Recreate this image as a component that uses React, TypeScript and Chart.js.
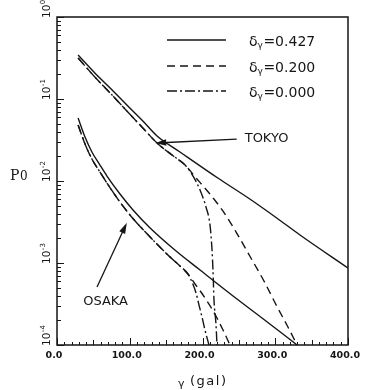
import React, { useEffect, useRef } from 'react';
import { Chart, registerables } from 'chart.js';

Chart.register(...registerables);

// ---------------- data ----------------
const TOKYO_SOLID_G = [29, 52, 73, 96, 118, 137.5, 169, 221, 265, 302, 334, 400];
const TOKYO_SOLID_P = [0.344, 0.2075, 0.1362, 0.0845, 0.0539, 0.0354, 0.0226, 0.01088, 0.00603, 0.00354, 0.002195, 0.000869];

const TOKYO_DASH_G = [29, 52, 73, 96, 118, 137.5, 158, 176, 190, 209, 228, 247, 265, 284.5, 302, 316, 330];
const TOKYO_DASH_P = [0.316, 0.1854, 0.1184, 0.0714, 0.0443, 0.02906, 0.02075, 0.01567, 0.01119, 0.00714, 0.00431, 0.00232, 0.001217, 0.000603, 0.000299, 0.0001753, 0.0001];

const TOKYO_DOT_G = [29, 52, 73, 96, 118, 137.5, 158, 176, 187, 196.6, 204.8, 210.3, 213.1, 214.4, 215.8, 218.6, 219.9];
const TOKYO_DOT_P = [0.316, 0.1854, 0.1184, 0.0714, 0.0443, 0.02906, 0.02075, 0.01567, 0.0115, 0.00777, 0.00482, 0.00291, 0.00144, 0.000821, 0.000354, 0.0001753, 0.0001];

const OSAKA_SOLID_G = [29, 38.5, 48, 59, 68.7, 86.6, 104.5, 128, 162, 196.6, 242, 289, 330];
const OSAKA_SOLID_P = [0.0587, 0.0344, 0.0226, 0.01567, 0.0115, 0.00694, 0.00443, 0.00267, 0.00144, 0.000821, 0.000396, 0.000191, 0.0001];

const OSAKA_DASH_G = [29, 38.5, 48, 59, 79.7, 100.3, 128, 151, 169, 180, 189.7, 197.9, 206.2, 213.1, 219.9, 228.2, 237.8];
const OSAKA_DASH_P = [0.0482, 0.02827, 0.01854, 0.01288, 0.00675, 0.00385, 0.002075, 0.001288, 0.000919, 0.000734, 0.000555, 0.000443, 0.000344, 0.000275, 0.0002135, 0.0001524, 0.0001];

const OSAKA_DOT_G = [29, 38.5, 48, 59, 79.7, 100.3, 128, 151, 169, 180, 185.6, 191.1, 195.2, 199.3, 203.4, 208.9];
const OSAKA_DOT_P = [0.0482, 0.02827, 0.01854, 0.01288, 0.00675, 0.00385, 0.002075, 0.001288, 0.000919, 0.000734, 0.000586, 0.000431, 0.000307, 0.0002195, 0.0001524, 0.0001];

const X_TICK_LABELS = ['0.0', '100.0', '200.0', '300.0', '400.0'];
const X_TICK_VALUES = [0, 100, 200, 300, 400];
const Y_DECADE_EXPONENTS = ['0', '-1', '-2', '-3', '-4'];
const LEGEND_VALUES = ['0.427', '0.200', '0.000'];

// annotation anchors (data coordinates)
const TOKYO_NOTE = { text: 'TOKYO', label: [258, 0.0325], from: [247, 0.0325], to: [135, 0.029] };
const OSAKA_NOTE = { text: 'OSAKA', label: [36, 0.00034], from: [55, 0.00051], to: [96, 0.0031] };

// ---------------- styles ----------------
const W = 365;
const H = 390;
const INK = '#151515';
const STYLES = [[], [8, 5], [10, 3, 2, 3]];

const pts = (g: number[], p: number[]) => g.map((x, i) => ({ x, y: p[i] }));

const series = (g: number[], p: number[], style: number) => ({
  data: pts(g, p),
  borderColor: INK,
  borderWidth: 1.4,
  borderDash: STYLES[style],
  pointRadius: 0,
  fill: false,
  tension: 0.4,
  cubicInterpolationMode: 'monotone' as const,
});

function arrow(ctx: CanvasRenderingContext2D, x1: number, y1: number, x2: number, y2: number) {
  const ang = Math.atan2(y2 - y1, x2 - x1);
  const hl = 11;
  const hw = 3.2;
  ctx.beginPath();
  ctx.moveTo(x1, y1);
  ctx.lineTo(x2 - Math.cos(ang) * hl * 0.6, y2 - Math.sin(ang) * hl * 0.6);
  ctx.stroke();
  ctx.beginPath();
  ctx.moveTo(x2, y2);
  ctx.lineTo(x2 - Math.cos(ang) * hl - Math.sin(ang) * hw, y2 - Math.sin(ang) * hl + Math.cos(ang) * hw);
  ctx.lineTo(x2 - Math.cos(ang) * hl + Math.sin(ang) * hw, y2 - Math.sin(ang) * hl - Math.cos(ang) * hw);
  ctx.closePath();
  ctx.fill();
}

const decor = {
  id: 'decor',
  afterDraw(chart: any) {
    const { ctx, chartArea: a } = chart;
    const x = chart.scales.x;
    const y = chart.scales.y;
    ctx.save();
    ctx.strokeStyle = INK;
    ctx.fillStyle = INK;
    ctx.setLineDash([]);

    // frame
    ctx.lineWidth = 1.5;
    ctx.strokeRect(a.left, a.top, a.right - a.left, a.bottom - a.top);

    // x ticks (inward)
    ctx.lineWidth = 1;
    ctx.beginPath();
    for (let v = 0; v <= 400; v += 10) {
      const px = Math.round(x.getPixelForValue(v)) + 0.5;
      const len = v % 100 === 0 ? 7 : v % 50 === 0 ? 5 : 3;
      ctx.moveTo(px, a.bottom);
      ctx.lineTo(px, a.bottom - len);
    }
    // y ticks (inward)
    for (let d = -4; d <= 0; d++) {
      for (let m = 1; m <= 9; m++) {
        if (d === 0 && m > 1) break;
        const v = m * Math.pow(10, d);
        const py = Math.round(y.getPixelForValue(v)) + 0.5;
        const len = m === 1 ? 7 : 4;
        ctx.moveTo(a.left, py);
        ctx.lineTo(a.left + len, py);
      }
    }
    ctx.stroke();

    // x tick labels
    ctx.font = 'bold 9.5px "DejaVu Sans"';
    ctx.textAlign = 'center';
    ctx.textBaseline = 'middle';
    X_TICK_VALUES.forEach((v, i) => {
      ctx.fillText(X_TICK_LABELS[i], x.getPixelForValue(v) - 3, a.bottom + 11);
    });

    // y tick labels (rotated)
    Y_DECADE_EXPONENTS.forEach((e) => {
      const py = y.getPixelForValue(Math.pow(10, Number(e)));
      ctx.save();
      ctx.translate(50, py + 1);
      ctx.rotate(-Math.PI / 2);
      ctx.textAlign = 'left';
      ctx.textBaseline = 'alphabetic';
      ctx.font = '10.5px "DejaVu Sans"';
      ctx.fillText('10', 0, 0);
      const w = ctx.measureText('10').width;
      ctx.font = '7px "DejaVu Sans"';
      ctx.fillText(e, w + 0.5, -5);
      ctx.restore();
    });

    // axis titles
    ctx.textAlign = 'left';
    ctx.textBaseline = 'alphabetic';
    ctx.font = '14px "DejaVu Serif"';
    ctx.fillText('P', 10, 180);
    const pw = ctx.measureText('P').width;
    ctx.font = '12px "DejaVu Serif"';
    ctx.fillText('0', 10 + pw + 0.5, 180);

    ctx.font = '11px "DejaVu Sans"';
    ctx.fillText('γ', 178, 387);
    ctx.font = '13px "DejaVu Sans"';
    (ctx as any).letterSpacing = '1.5px';
    ctx.fillText('(gal)', 190, 385);
    (ctx as any).letterSpacing = '0px';

    // legend
    const rowsY = [40, 66, 91];
    LEGEND_VALUES.forEach((val, i) => {
      ctx.lineWidth = 1.4;
      ctx.setLineDash(STYLES[i]);
      ctx.beginPath();
      ctx.moveTo(167, rowsY[i]);
      ctx.lineTo(226, rowsY[i]);
      ctx.stroke();
      ctx.setLineDash([]);
      const ty = rowsY[i] + 6;
      ctx.font = '14px "DejaVu Sans"';
      ctx.fillText('δ', 249, ty);
      const dw = ctx.measureText('δ').width;
      ctx.font = '9px "DejaVu Sans"';
      ctx.fillText('γ', 249 + dw, ty + 2);
      const gw = ctx.measureText('γ').width;
      ctx.font = '14px "DejaVu Sans"';
      ctx.fillText('=' + val, 249 + dw + gw + 0.5, ty);
    });

    // annotations
    ctx.lineWidth = 1.3;
    [TOKYO_NOTE, OSAKA_NOTE].forEach((n) => {
      ctx.font = '13px "DejaVu Sans"';
      ctx.textBaseline = 'middle';
      ctx.fillText(n.text, x.getPixelForValue(n.label[0]), y.getPixelForValue(n.label[1]));
      arrow(
        ctx,
        x.getPixelForValue(n.from[0]),
        y.getPixelForValue(n.from[1]),
        x.getPixelForValue(n.to[0]),
        y.getPixelForValue(n.to[1])
      );
    });

    ctx.restore();
  },
};

export default function App() {
  const ref = useRef<HTMLCanvasElement>(null);
  useEffect(() => {
    const chart = new Chart(ref.current as HTMLCanvasElement, {
      type: 'line',
      data: {
        datasets: [
          series(TOKYO_SOLID_G, TOKYO_SOLID_P, 0),
          series(TOKYO_DASH_G, TOKYO_DASH_P, 1),
          series(TOKYO_DOT_G, TOKYO_DOT_P, 2),
          series(OSAKA_SOLID_G, OSAKA_SOLID_P, 0),
          series(OSAKA_DASH_G, OSAKA_DASH_P, 1),
          series(OSAKA_DOT_G, OSAKA_DOT_P, 2),
        ] as any,
      },
      options: {
        animation: false,
        responsive: false,
        devicePixelRatio: 1,
        layout: { padding: { left: 57, right: 17, top: 17, bottom: 45 } },
        scales: {
          x: { type: 'linear', min: 0, max: 400, display: false },
          y: { type: 'logarithmic', min: 0.0001, max: 1, display: false },
        },
        plugins: { legend: { display: false }, tooltip: { enabled: false } },
      },
      plugins: [decor],
    });
    return () => chart.destroy();
  }, []);
  return (
    <div style={{ position: 'fixed', left: 0, top: 0, width: W, height: H, background: '#fff' }}>
      <canvas ref={ref} width={W} height={H} style={{ display: 'block', width: W, height: H }} />
    </div>
  );
}
